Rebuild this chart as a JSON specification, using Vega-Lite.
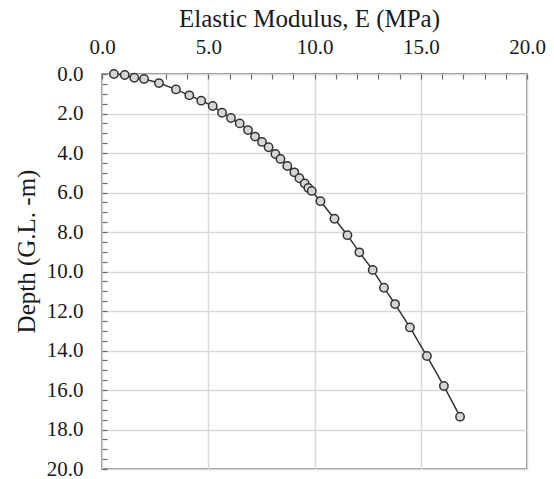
{
  "$schema": "https://vega.github.io/schema/vega-lite/v6.json",
  "width": 425,
  "height": 395,
  "autosize": "none",
  "padding": {"left": 102, "top": 74, "right": 27, "bottom": 10},
  "background": "white",
  "config": {
    "view": {"stroke": "#6b6b6b", "strokeWidth": 1.5},
    "font": "Liberation Serif"
  },
  "data": {
    "values": [
      {"E": 0.56, "D": 0.00},
      {"E": 1.07, "D": 0.05},
      {"E": 1.52, "D": 0.19},
      {"E": 1.98, "D": 0.25},
      {"E": 2.68, "D": 0.46},
      {"E": 3.48, "D": 0.78},
      {"E": 4.11, "D": 1.08},
      {"E": 4.67, "D": 1.35},
      {"E": 5.21, "D": 1.62},
      {"E": 5.65, "D": 1.96},
      {"E": 6.07, "D": 2.23},
      {"E": 6.48, "D": 2.50},
      {"E": 6.87, "D": 2.84},
      {"E": 7.20, "D": 3.17},
      {"E": 7.53, "D": 3.44},
      {"E": 7.84, "D": 3.71},
      {"E": 8.16, "D": 4.05},
      {"E": 8.40, "D": 4.30},
      {"E": 8.72, "D": 4.66},
      {"E": 9.05, "D": 4.98},
      {"E": 9.29, "D": 5.28},
      {"E": 9.54, "D": 5.54},
      {"E": 9.71, "D": 5.77},
      {"E": 9.87, "D": 5.92},
      {"E": 10.28, "D": 6.44},
      {"E": 10.94, "D": 7.33},
      {"E": 11.55, "D": 8.16},
      {"E": 12.11, "D": 9.03},
      {"E": 12.74, "D": 9.92},
      {"E": 13.27, "D": 10.82},
      {"E": 13.79, "D": 11.65},
      {"E": 14.49, "D": 12.83},
      {"E": 15.29, "D": 14.28},
      {"E": 16.09, "D": 15.80},
      {"E": 16.85, "D": 17.35}
    ]
  },
  "encoding": {
    "x": {
      "field": "E",
      "type": "quantitative",
      "scale": {"domain": [0, 20], "nice": false, "zero": false},
      "axis": {
        "orient": "top",
        "title": "Elastic Modulus, E (MPa)",
        "titleFont": "Liberation Serif",
        "titleFontSize": 25,
        "titleFontWeight": "normal",
        "titleColor": "#1a1a1a",
        "titleX": 207,
        "titleY": -48,
        "titleAlign": "center",
        "titleBaseline": "alphabetic",
        "values": [0,1,2,3,4,5,6,7,8,9,10,11,12,13,14,15,16,17,18,19,20],
        "labelExpr": "datum.value % 5 === 0 ? format(datum.value, '.1f') : ''",
        "labelFont": "Liberation Serif",
        "labelFontSize": 21,
        "labelColor": "#1a1a1a",
        "labelPadding": 22,
        "labelFlush": false,
        "labelOverlap": false,
        "domain": false,
        "tickSize": -5,
        "tickColor": "#6b6b6b",
        "tickWidth": 1.2,
        "grid": true,
        "gridColor": "#d9d9d9",
        "gridWidth": 1.5,
        "gridOpacity": {"condition": {"test": "datum.value % 5 === 0", "value": 1}, "value": 0}
      }
    },
    "y": {
      "field": "D",
      "type": "quantitative",
      "scale": {"domain": [0, 20], "nice": false, "zero": false, "reverse": true},
      "axis": {
        "orient": "left",
        "title": "Depth (G.L. -m)",
        "titleFont": "Liberation Serif",
        "titleFontSize": 25,
        "titleFontWeight": "normal",
        "titleColor": "#1a1a1a",
        "titleX": -76,
        "titleY": 177,
        "titleAngle": -90,
        "titleAlign": "center",
        "titleBaseline": "middle",
        "values": [0,0.5,1,1.5,2,2.5,3,3.5,4,4.5,5,5.5,6,6.5,7,7.5,8,8.5,9,9.5,10,10.5,11,11.5,12,12.5,13,13.5,14,14.5,15,15.5,16,16.5,17,17.5,18,18.5,19,19.5,20],
        "labelExpr": "datum.value % 2 === 0 ? format(datum.value, '.1f') : ''",
        "labelFont": "Liberation Serif",
        "labelFontSize": 21,
        "labelColor": "#1a1a1a",
        "labelPadding": 24,
        "labelFlush": false,
        "labelOverlap": false,
        "domain": false,
        "tickSize": -5,
        "tickColor": "#6b6b6b",
        "tickWidth": 1.2,
        "grid": true,
        "gridColor": "#d9d9d9",
        "gridWidth": 1.5,
        "gridOpacity": {"condition": {"test": "datum.value % 2 === 0", "value": 1}, "value": 0}
      }
    }
  },
  "layer": [
    {
      "mark": {"type": "line", "color": "#333333", "strokeWidth": 1.5},
      "encoding": {"order": {"field": "D", "type": "quantitative"}}
    },
    {
      "mark": {"type": "point", "shape": "circle", "filled": false, "fill": "#d6d6d6", "fillOpacity": 1, "stroke": "#333333", "strokeWidth": 1.5, "strokeOpacity": 1, "size": 70, "opacity": 1}
    }
  ]
}
